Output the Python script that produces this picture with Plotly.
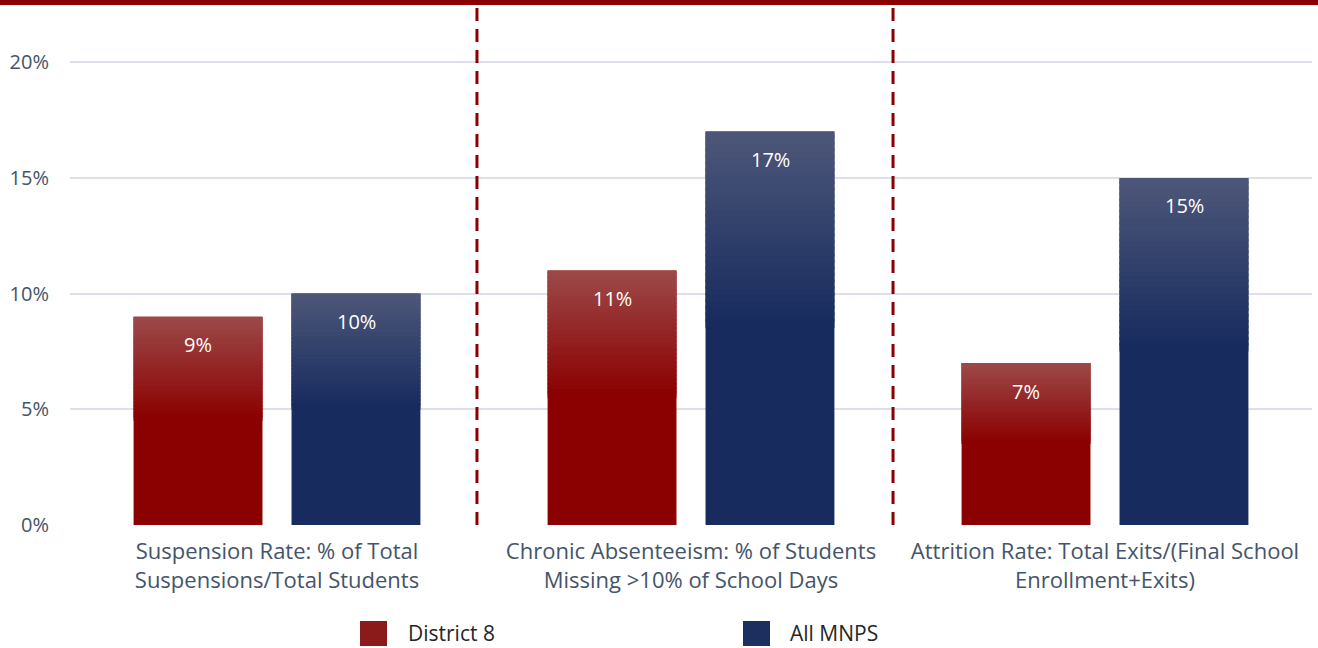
import plotly.graph_objects as go

categories = [
    "Suspension Rate: % of Total<br>Suspensions/Total Students",
    "Chronic Absenteeism: % of Students<br>Missing >10% of School Days",
    "Attrition Rate: Total Exits/(Final School<br>Enrollment+Exits)",
]
district8 = [9, 11, 7]
all_mnps = [10, 17, 15]
series_names = ["District 8", "All MNPS"]
tick_vals = [0, 5, 10, 15, 20]
tick_text = ["0%", "5%", "10%", "15%", "20%"]

FONT = "Open Sans"
TXT = "#44546A"
RED_BOTTOM = (139, 0, 0)
RED_TOP = (156, 72, 72)
BLUE_BOTTOM = (23, 43, 94)
BLUE_TOP = (76, 86, 120)

x_idx = list(range(len(categories)))

fig = go.Figure()


def mix(c1, c2, t):
    return "rgb(%d,%d,%d)" % tuple(round(a + (b - a) * t) for a, b in zip(c1, c2))


def add_gradient_series(values, bottom, top, group):
    fig.add_trace(go.Bar(x=x_idx, y=values, offsetgroup=group,
                         marker=dict(color=mix(bottom, bottom, 0), line=dict(width=0)),
                         showlegend=False, hoverinfo="skip"))
    n = 30
    start = 0.5
    for k in range(n):
        f0 = start + (1 - start) * k / n
        f1 = start + (1 - start) * (k + 1) / n
        t = k / (n - 1)
        fig.add_trace(go.Bar(
            x=x_idx,
            y=[v * (f1 - f0) + (0.12 if k < n - 1 else 0) for v in values],
            base=[v * f0 for v in values],
            offsetgroup=group,
            marker=dict(color=mix(bottom, top, t), line=dict(width=0)),
            showlegend=False, hoverinfo="skip"))


add_gradient_series(district8, RED_BOTTOM, RED_TOP, "d8")
add_gradient_series(all_mnps, BLUE_BOTTOM, BLUE_TOP, "mnps")

annotations = []
for vals, shift in ((district8, -79), (all_mnps, 79)):
    for i, v in enumerate(vals):
        annotations.append(dict(x=i, y=v, xref="x", yref="y", xshift=shift, yshift=-28,
                                text="%d%%" % v, showarrow=False,
                                font=dict(family=FONT, size=20, color="white")))


def px_x(p):
    return (p - 70) / 1242


def px_y(p):
    return (525 - p) / 523


shapes = []
legend_items = [(series_names[0], "#8B1A1A", 360, 406), (series_names[1], "#1C2F5E", 743, 788)]
for name, col, sx, tx in legend_items:
    shapes.append(dict(type="rect", xref="paper", yref="paper",
                       x0=px_x(sx), x1=px_x(sx + 27), y0=px_y(646), y1=px_y(621),
                       fillcolor=col, line=dict(width=0)))
    annotations.append(dict(x=px_x(tx), y=px_y(633), xref="paper", yref="paper",
                            xanchor="left", yanchor="middle", text=name, showarrow=False,
                            font=dict(family=FONT, size=21, color="#262626")))

for xv in (0.483, 1.488):
    shapes.append(dict(type="line", xref="x", yref="paper", x0=xv, x1=xv, y0=0, y1=0.996,
                       line=dict(color="#8B0000", width=3, dash="13px,8px")))
shapes.append(dict(type="line", xref="paper", yref="paper", x0=px_x(0), x1=px_x(1318),
                   y0=px_y(2.5), y1=px_y(2.5), line=dict(color="#8B0000", width=5)))

fig.update_layout(
    width=1318, height=648,
    margin=dict(l=70, r=6, t=2, b=123),
    paper_bgcolor="white", plot_bgcolor="white",
    barmode="group", bargap=0.237, bargroupgap=0.184,
    showlegend=False,
    shapes=shapes, annotations=annotations,
    xaxis=dict(tickvals=x_idx, ticktext=categories, range=[-0.5, 2.5],
               tickfont=dict(family=FONT, size=22, color=TXT), showgrid=False,
               zeroline=False, showline=False, ticks="", ticklabelstandoff=11),
    yaxis=dict(range=[0, 22.6], tickvals=tick_vals, ticktext=tick_text,
               tickfont=dict(family=FONT, size=20, color=TXT), showgrid=True,
               gridcolor="#DCE0E8", gridwidth=2, zeroline=False, ticks="",
               ticklabelstandoff=20),
)

fig.write_html("out.html", config={"displayModeBar": False},
               post_script="document.body.style.margin='0';")
